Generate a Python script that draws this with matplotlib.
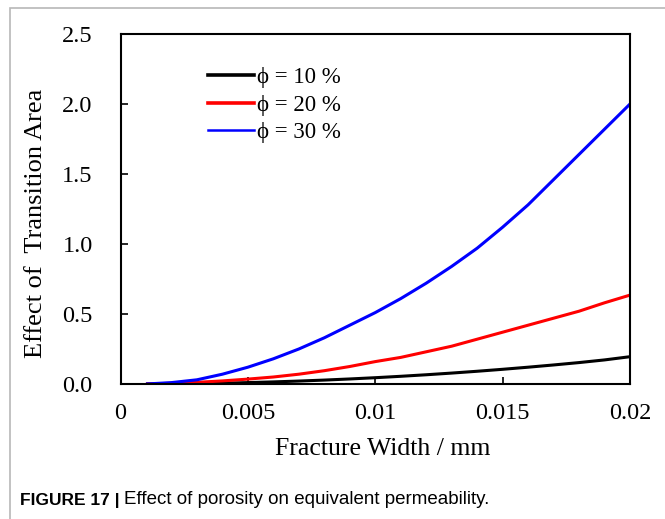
import numpy as np
import matplotlib.pyplot as plt
from matplotlib.patches import Rectangle
from matplotlib.lines import Line2D

# fracture width (mm) and effect of transition area for each porosity
width = [0.001, 0.002, 0.003, 0.004, 0.005, 0.006, 0.007, 0.008, 0.009, 0.010,
         0.011, 0.012, 0.013, 0.014, 0.015, 0.016, 0.017, 0.018, 0.019, 0.020]
phi10 = [0.0, 0.001, 0.003, 0.006, 0.010, 0.015, 0.021, 0.028, 0.036, 0.045,
         0.055, 0.066, 0.078, 0.091, 0.105, 0.120, 0.136, 0.153, 0.172, 0.195]
phi20 = [0.0, 0.005, 0.012, 0.022, 0.035, 0.050, 0.070, 0.095, 0.125, 0.160,
         0.190, 0.230, 0.270, 0.320, 0.370, 0.420, 0.470, 0.520, 0.580, 0.635]
phi30 = [0.0, 0.010, 0.030, 0.070, 0.120, 0.180, 0.250, 0.330, 0.420, 0.510,
         0.610, 0.720, 0.840, 0.970, 1.120, 1.280, 1.460, 1.640, 1.820, 2.000]

labels = ["ϕ = 10 %", "ϕ = 20 %", "ϕ = 30 %"]
colors = ["#000000", "#ff0000", "#0000ff"]
xticks = [0, 0.005, 0.01, 0.015, 0.02]
xticklabels = ["0", "0.005", "0.01", "0.015", "0.02"]
yticks = [0.0, 0.5, 1.0, 1.5, 2.0, 2.5]

serif = ["Liberation Serif", "DejaVu Serif"]
plt.rcParams["font.family"] = serif

W, H = 665, 519
fig = plt.figure(figsize=(W / 100, H / 100), dpi=100)

# outer frame of the figure panel
fig.patches.append(Rectangle((10 / W, -0.1), 1.2, 1.1 - 8 / H,
                             transform=fig.transFigure, fill=False,
                             edgecolor="#b8b8b8", linewidth=1.2))

ax = fig.add_axes([120.5 / W, 1 - 384 / H, (630 - 120.5) / W, (384 - 34) / H])

for ys, c in zip([phi10, phi20, phi30], colors):
    ax.plot(width, ys, color=c, linewidth=2.2, solid_capstyle="butt")

ax.set_xlim(0, 0.02)
ax.set_ylim(0, 2.5)
ax.set_xticks(xticks)
ax.set_xticklabels(xticklabels)
ax.set_yticks(yticks)
ax.set_yticklabels([f"{v:.1f}" for v in yticks])
ax.tick_params(direction="in", length=5, width=1.2, labelsize=17.5, colors="#000000")
ax.tick_params(axis="x", pad=14)
ax.tick_params(axis="y", pad=20)
for s in ax.spines.values():
    s.set_linewidth(1.5)

ax.set_xlabel("Fracture Width / mm", fontsize=18.5)
ax.set_ylabel("Effect of  Transition Area", fontsize=19)
ax.xaxis.set_label_coords(0.514, -0.155)
ax.yaxis.set_label_coords(-0.144, 0.46)

handles = [Line2D([], [], color=c, linewidth=lw) for c, lw in zip(colors, [2.6, 2.6, 1.8])]
ax.legend(handles, labels, loc="upper left", bbox_to_anchor=(0.172, 0.905),
          frameon=False, fontsize=16.5, handlelength=2.0, handletextpad=0.15,
          labelspacing=0.28, borderpad=0, borderaxespad=0)

cap = ["Liberation Sans Narrow", "Liberation Sans"]
fig.text(20 / W, 1 - 500 / H, "FIGURE 17 |", fontsize=12.5, fontweight="bold",
         family=cap, va="center")
fig.text(124 / W, 1 - 500 / H, "Effect of porosity on equivalent permeability.",
         fontsize=13.5, family=cap, va="center")

fig.savefig("out.png", dpi=100)
